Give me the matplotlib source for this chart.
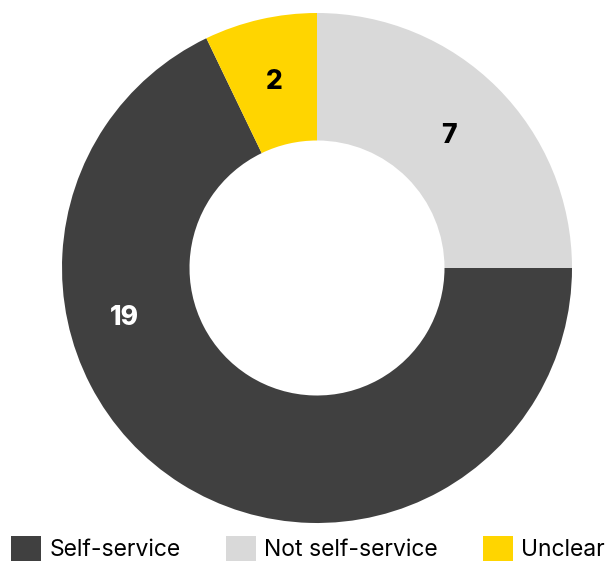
import numpy as np
import matplotlib.pyplot as plt
from matplotlib.patches import Patch

plt.rcParams['font.family'] = ['Inter', 'DejaVu Sans']

categories = ["Self-service", "Not self-service", "Unclear"]
counts = [19, 7, 2]
colors = ["#404040", "#d9d9d9", "#ffd500"]
label_colors = ["white", "black", "black"]

# slices drawn clockwise from 12 o'clock: Not self-service, Self-service, Unclear
order = [1, 0, 2]

W, H = 609, 561
fig = plt.figure(figsize=(W / 100, H / 100), dpi=100)
cx, cy, R = 317, 268, 255
ax = fig.add_axes([(cx - R) / W, (H - cy - R) / H, 2 * R / W, 2 * R / H])

vals = [counts[i] for i in order]
wedges, _ = ax.pie(vals, colors=[colors[i] for i in order], startangle=90,
                   counterclock=False, radius=1.0,
                   wedgeprops=dict(width=0.5, linewidth=0))
ax.set_xlim(-1, 1)
ax.set_ylim(-1, 1)
ax.set_aspect('equal')
ax.axis('off')

# value labels near the middle of each ring segment
for w, i in zip(wedges, order):
    mid = np.deg2rad((w.theta1 + w.theta2) / 2)
    r = 0.73
    if counts[i] == max(counts):
        # large slice: keep the label on the left side of the ring
        mid = np.deg2rad(194.5)
        r = 0.78
    elif counts[i] == min(counts):
        r = 0.75
    ax.text(r * np.cos(mid), r * np.sin(mid), str(counts[i]),
            ha='center', va='center', fontsize=19, fontweight='heavy',
            color=label_colors[i])

handles = [Patch(facecolor=c, edgecolor='none') for c in colors]
fig.legend(handles, categories, loc='lower left', bbox_to_anchor=(0.0, -0.02),
           ncol=3, frameon=False, fontsize=16.5, handlelength=1.3, handleheight=1.3,
           handletextpad=0.35, columnspacing=2.0, borderaxespad=0.2,
           borderpad=0.3)

fig.savefig("out.png", dpi=100)
